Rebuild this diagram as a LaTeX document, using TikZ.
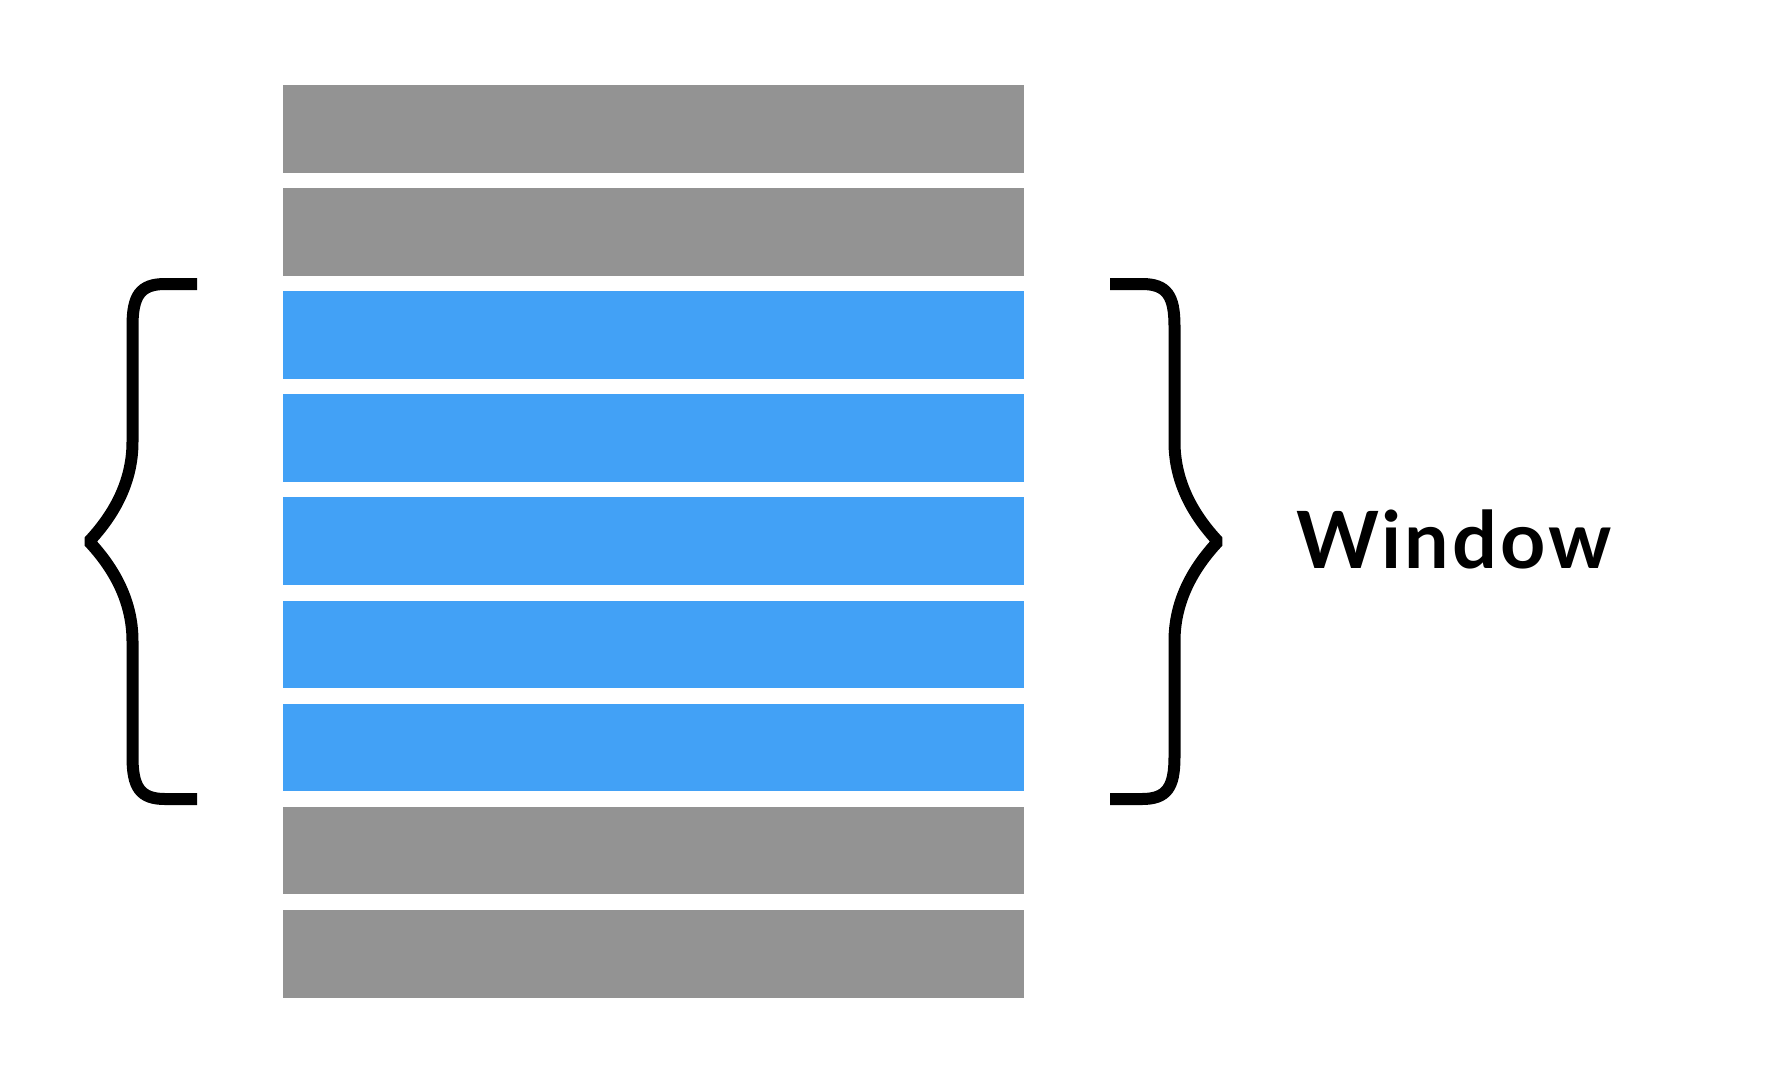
\documentclass[tikz,border=0pt]{standalone}
\usepackage{fontspec}
\newfontfamily\labelfont{Lato}[LetterSpace=3.8]
\definecolor{bargray}{RGB}{147,147,147}
\definecolor{barblue}{RGB}{66,161,246}
\tikzset{
  bar/.style={rectangle, inner sep=0pt, minimum width=741pt, minimum height=87.7pt},
  graybar/.style={bar, fill=bargray},
  bluebar/.style={bar, fill=barblue},
  bracket/.style={draw=black, line width=12pt, line join=miter, miter limit=1.2, line cap=butt}
}
\begin{document}
\begin{tikzpicture}[x=1pt, y=-1pt]
\useasboundingbox (0,0) rectangle (1790,1080);
\node[graybar] (b1) at (653.5, 128.85) {};
\node[graybar] (b2) at (653.5, 231.95) {};
\node[bluebar] (b3) at (653.5, 335.05) {};
\node[bluebar] (b4) at (653.5, 438.15) {};
\node[bluebar] (b5) at (653.5, 541.25) {};
\node[bluebar] (b6) at (653.5, 644.35) {};
\node[bluebar] (b7) at (653.5, 747.45) {};
\node[graybar] (b8) at (653.5, 850.55) {};
\node[graybar] (b9) at (653.5, 953.65) {};
% left brace
\draw[bracket] (197,284) -- (165,284) .. controls (140,284) and (132.5,296) .. (132.5,326)
  -- (132.5,442) .. controls (132.5,485) and (111,518) .. (89,541.5)
  .. controls (111,565) and (132.5,598) .. (132.5,641)
  -- (132.5,757) .. controls (132.5,787) and (140,799) .. (165,799) -- (197,799);
% right brace
\draw[bracket] (1110,284) -- (1142,284) .. controls (1167,284) and (1174.5,296) .. (1174.5,326)
  -- (1174.5,442) .. controls (1174.5,485) and (1196,518) .. (1218,541.5)
  .. controls (1196,565) and (1174.5,598) .. (1174.5,641)
  -- (1174.5,757) .. controls (1174.5,787) and (1167,799) .. (1142,799) -- (1110,799);
\node[anchor=base west, inner sep=0pt, font=\labelfont\bfseries\fontsize{79}{90}\selectfont] (win) at (1296,568.3) {Window};
\end{tikzpicture}
\end{document}
